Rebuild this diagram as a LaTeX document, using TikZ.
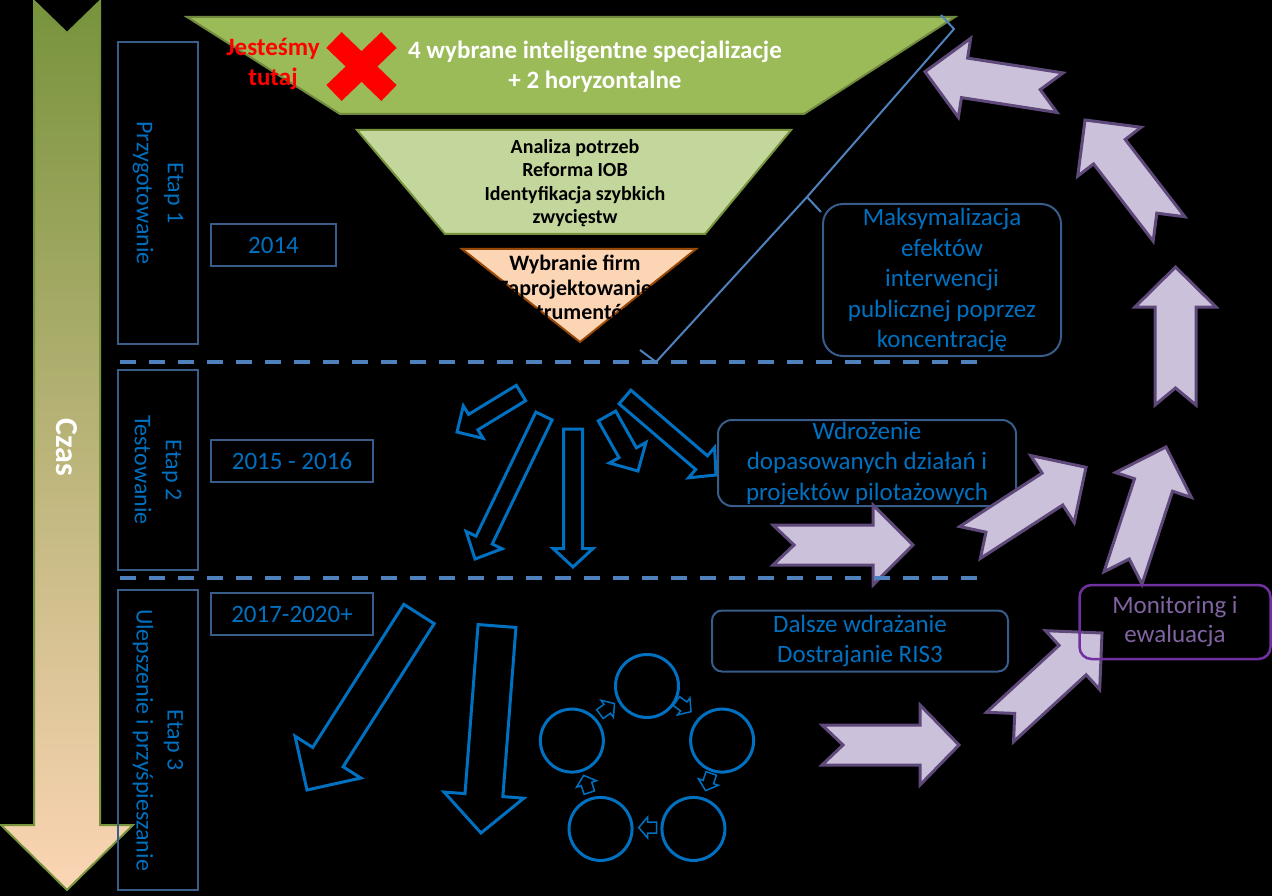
\documentclass[tikz,border=0pt]{standalone}
\usepackage{fontspec}
\setmainfont{Carlito}
\usetikzlibrary{calc}
\definecolor{bluetxt}{HTML}{0070C0}
\definecolor{arrblue}{HTML}{0070C0}
\definecolor{boxline}{HTML}{385D8A}
\definecolor{dashcol}{HTML}{4F81BD}
\definecolor{greenA}{HTML}{9BBB59}
\definecolor{greenAline}{HTML}{71893F}
\definecolor{greenB}{HTML}{C3D69B}
\definecolor{greenBline}{HTML}{77933C}
\definecolor{orangefill}{HTML}{FCD5B5}
\definecolor{orangeline}{HTML}{984807}
\definecolor{lav}{HTML}{CCC1DA}
\definecolor{lavline}{HTML}{5F497A}
\definecolor{monline}{HTML}{7030A0}
\definecolor{montxt}{HTML}{8064A2}
\definecolor{czastop}{HTML}{77933C}
\definecolor{czasbot}{HTML}{FCD5B5}
\definecolor{czasline}{HTML}{77933C}
\definecolor{xred}{HTML}{FF0000}
\newcommand{\fsz}[2]{\fontsize{#1}{#2}\selectfont}
% block arrow: [style]{from}{to}{shaft half width}{head half width}{head length}{notch}
\newcommand{\barr}[7][]{%
  \coordinate (ba) at (#2);
  \coordinate (bb) at (#3);
  \coordinate (bn) at ($(bb)!#6!(ba)$);
  \coordinate (bm) at ($(ba)!#7!(bb)$);
  \draw[#1] ($(ba)!#4!90:(bb)$) -- ($(bn)!#4!90:(bb)$) -- ($(bn)!#5!90:(bb)$) -- (bb)
    -- ($(bn)!#5!-90:(bb)$) -- ($(bn)!#4!-90:(bb)$) -- ($(ba)!#4!-90:(bb)$) -- (bm) -- cycle;
}
\begin{document}
\begin{tikzpicture}[x=1pt,y=-1pt,
  stagebox/.style={draw=boxline, line width=2, rotate=-90, align=center, text=bluetxt,
    font=\fsz{24}{31}, minimum height=80, inner sep=0},
  yearbox/.style={draw=boxline, line width=2, text=bluetxt, font=\fsz{25}{30}, inner sep=0},
  infobox/.style={draw=boxline, line width=2, text=bluetxt, font=\fsz{25}{30.5}, align=center, inner sep=0},
  monbox/.style={draw=monline, line width=2.5, text=montxt, font=\fsz{25}{29}, align=center, inner sep=0, rounded corners=12},
  bluearrow/.style={draw=arrblue, line width=3, line join=miter},
  smallarrow/.style={draw=arrblue, line width=1.5, line join=miter},
  lavarrow/.style={draw=lavline, fill=lav, line width=3, line join=miter},
  dashline/.style={draw=dashcol, line width=4, dash pattern=on 16 off 13},
  cyclenode/.style={circle, draw=arrblue, line width=3, minimum size=63, inner sep=0},
  bracestyle/.style={draw=dashcol, line width=2}
]
\fill[black] (0,0) rectangle (1272,896);
\useasboundingbox (0,0) rectangle (1272,896);

% time arrow
\path[draw=czasline, line width=2, top color=czastop, bottom color=czasbot]
  (34,1) -- (67,33) -- (100,1) -- (100,825) -- (133,825) -- (67,890) -- (1,825) -- (34,825) -- cycle;
\node[rotate=-90, text=white, font=\bfseries\fsz{32}{36}] (czas) at (67,447) {Czas};

% stage boxes
\node[stagebox, minimum width=302] (s1) at (158,193) {Etap 1\\Przygotowanie};
\node[stagebox, minimum width=200] (s2) at (158,470) {Etap 2\\Testowanie};
\node[stagebox, minimum width=300] (s3) at (158,740) {Etap 3\\Ulepszenie i przyśpieszanie};

% year boxes
\node[yearbox, minimum width=125, minimum height=42] (y1) at (273.5,245) {2014};
\node[yearbox, minimum width=162, minimum height=42] (y2) at (292,461) {2015 - 2016};
\node[yearbox, minimum width=162, minimum height=42] (y3) at (292,614) {2017-2020+};

% funnel
\draw[fill=greenA, draw=greenAline, line width=2] (187,17) -- (955,17) -- (804,114) -- (340,114) -- cycle;
\draw[fill=greenB, draw=greenBline, line width=2] (357,130) -- (791,130) -- (705,234) -- (445,234) -- cycle;
\draw[fill=orangefill, draw=orangeline, line width=2] (462,249) -- (696,249) -- (580,342) -- cycle;

\node[text=white, font=\bfseries\fsz{25}{30}, align=center] (f1) at (595,67)
  {4 wybrane inteligentne specjalizacje\\+ 2 horyzontalne};
\node[text=xred, font=\bfseries\fsz{25}{30}, align=center] (here) at (273,64) {Jesteśmy\\tutaj};
\node[text=black, font=\bfseries\fsz{20}{23.3}, align=center] (f2) at (575,183)
  {Analiza potrzeb\\Reforma IOB\\Identyfikacja szybkich\\zwycięstw};
\node[text=black, font=\bfseries\fsz{22}{24.5}, align=center] (f3) at (575,287.5)
  {Wybranie firm\\Zaprojektowanie\\instrumentów};

% red cross
\draw[xred, line width=22] (334,40) -- (389,93);
\draw[xred, line width=22] (389,40) -- (334,93);

% brace
\coordinate (br1) at (941,15);
\coordinate (br2) at (954,29);
\coordinate (br3) at (807,197);
\coordinate (br4) at (656,362);
\coordinate (br5) at (640,350);
\coordinate (br6) at (821,212);
\draw[bracestyle] (br1) -- (br2) -- (br3) -- (br4) -- (br5);
\draw[bracestyle] (br3) -- (br6);

% blue arrows stage 2
\barr[bluearrow]{521,393}{457,432}{9pt}{19pt}{19pt}{0pt}
\barr[bluearrow]{544,416}{475,559}{9pt}{20pt}{21pt}{0pt}
\barr[bluearrow]{573,429}{573,567}{9.5pt}{20pt}{18.5pt}{0pt}
\barr[bluearrow]{607,416}{638,471}{10pt}{21pt}{21pt}{0pt}
\barr[bluearrow]{625,397}{716,475}{9pt}{20pt}{19pt}{0pt}
% blue arrows stage 3
\barr[bluearrow]{419,614}{307,790}{18pt}{39pt}{39pt}{0pt}
\barr[bluearrow]{497,626}{481,833}{19pt}{40pt}{38pt}{0pt}

% cycle
\coordinate (cyc) at (647,765);
\node[cyclenode] (c1) at ($(cyc)+(-90:79)$) {};
\node[cyclenode] (c2) at ($(cyc)+(-18:79)$) {};
\node[cyclenode] (c3) at ($(cyc)+(54:79)$) {};
\node[cyclenode] (c4) at ($(cyc)+(126:79)$) {};
\node[cyclenode] (c5) at ($(cyc)+(198:79)$) {};
\barr[smallarrow]{676.4,701.1}{691,711.7}{5.5pt}{10.5pt}{9pt}{0pt}
\barr[smallarrow]{711.2,773.4}{705.6,790.6}{5.5pt}{10.5pt}{9pt}{0pt}
\barr[smallarrow]{656.7,827.5}{638.7,827.5}{5.5pt}{10.5pt}{9pt}{0pt}
\barr[smallarrow]{589.3,792.6}{583.7,775.4}{5.5pt}{10.5pt}{9pt}{0pt}
\barr[smallarrow]{599.9,714.1}{614.5,703.5}{5.5pt}{10.5pt}{9pt}{0pt}

% info boxes
\node[infobox, rounded corners=20, minimum width=238, minimum height=152] (mx) at (942,280)
  {Maksymalizacja\\efektów\\interwencji\\publicznej poprzez\\koncentrację};
\node[infobox, rounded corners=14, minimum width=298, minimum height=86] (wd) at (867,463)
  {Wdrożenie\\dopasowanych działań i\\projektów pilotażowych};
\node[infobox, rounded corners=10, minimum width=296, minimum height=61, font=\fsz{25}{29.5}] (ds) at (860,641)
  {Dalsze wdrażanie\\Dostrajanie RIS3};

% lavender arrows
\barr[lavarrow]{773,545}{913,545}{20pt}{40pt}{40pt}{21pt}
\barr[lavarrow]{970,542.5}{1086,467.3}{19pt}{40pt}{40pt}{19pt}
\barr[lavarrow]{822,745}{959,745}{20pt}{40pt}{39pt}{21pt}
\barr[lavarrow]{1000,727}{1102,633}{20pt}{40pt}{40pt}{20pt}
\barr[lavarrow]{1123,578}{1166,447}{20pt}{40pt}{40pt}{20pt}
\barr[lavarrow]{1175.5,405}{1175.5,267}{20.5pt}{40.5pt}{40pt}{17pt}
\barr[lavarrow]{1169,229}{1085,120}{20pt}{40pt}{40pt}{20pt}
\barr[lavarrow]{1060,92.7}{925,71.7}{20pt}{40pt}{40pt}{20pt}

% dashed separators
\coordinate (d1a) at (120,362);
\coordinate (d1b) at (988,362);
\coordinate (d2a) at (120,578);
\coordinate (d2b) at (988,578);
\draw[dashline] (d1a) -- (d1b);
\draw[dashline] (d2a) -- (d2b);

% monitoring
\node[monbox, minimum width=191, minimum height=74] (mon) at (1175,622) {Monitoring i\\ewaluacja};
\end{tikzpicture}
\end{document}
